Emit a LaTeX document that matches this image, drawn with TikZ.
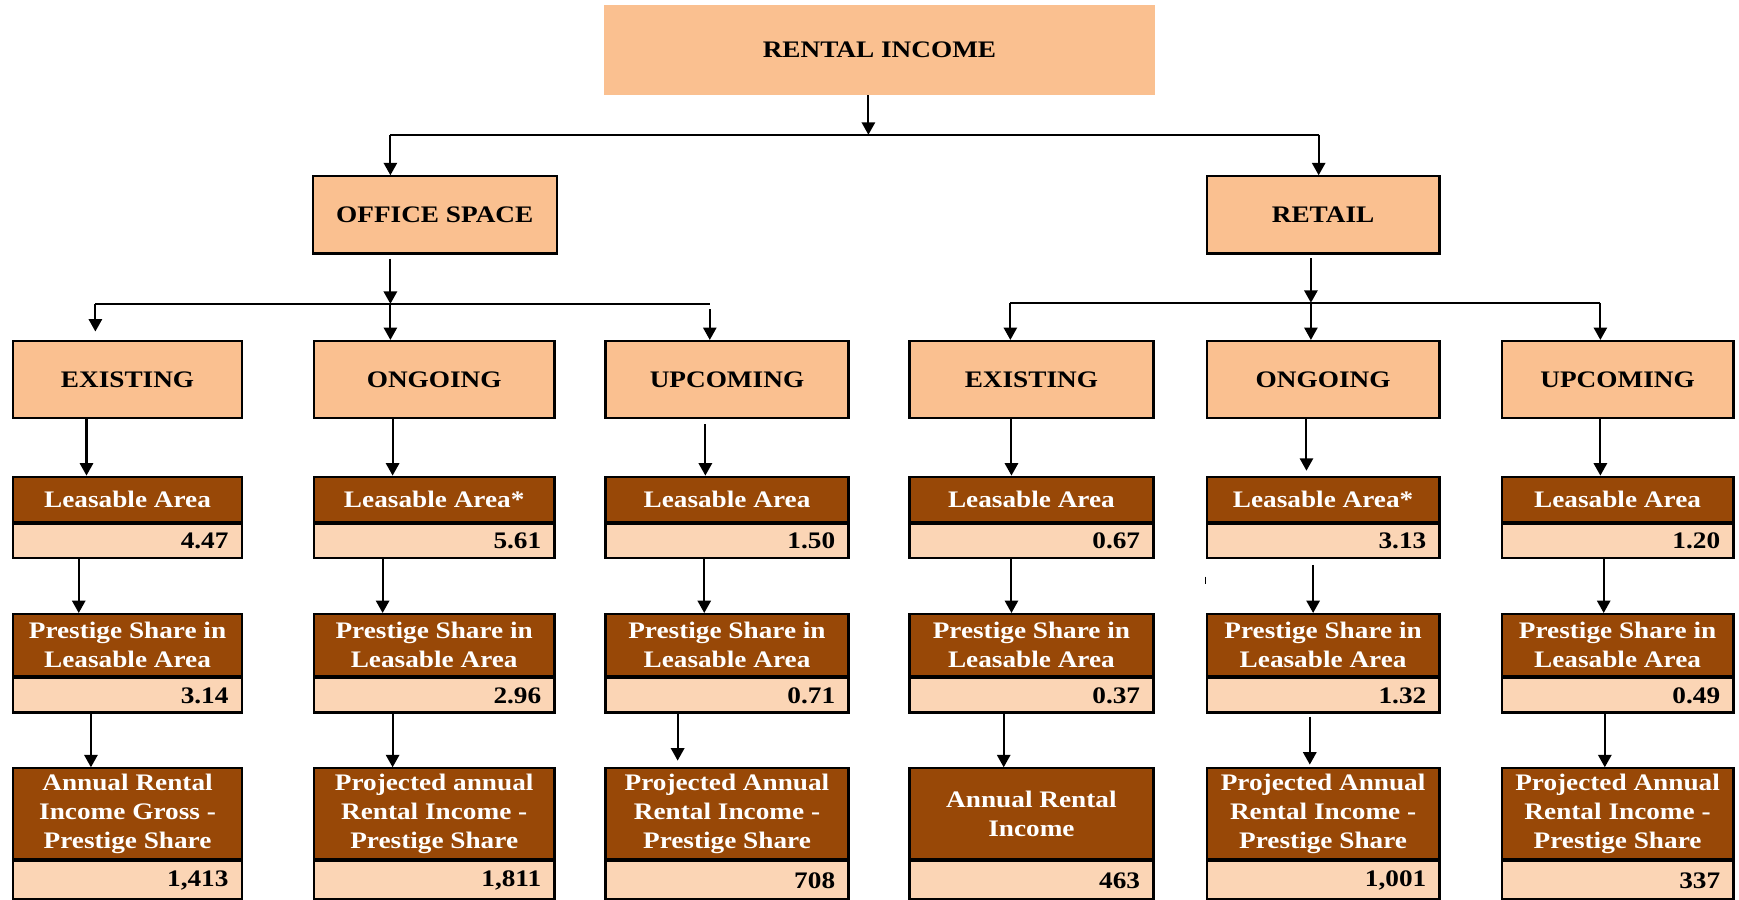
\documentclass[tikz,border=0pt]{standalone}
\usepackage{fontspec}
\setmainfont{Liberation Serif}[FakeStretch=1.15]
\usetikzlibrary{arrows.meta,positioning}
\definecolor{peach}{HTML}{FAC090}
\definecolor{rust}{HTML}{984807}
\definecolor{cream}{HTML}{FBD5B5}

\begin{document}
\begin{tikzpicture}
\tikzstyle{topbox}=[fill=peach,minimum height=1.7375cm,font=\fontsize{15.2}{18.5}\selectfont\bfseries]
\tikzstyle{headbox}=[topbox,draw,line width=1.4pt]
\tikzstyle{darkbox}=[draw,line width=1.4pt,fill=rust,text=white,align=center,inner ysep=0pt,font=\fontsize{15.2}{18.5}\selectfont\bfseries]
\tikzstyle{areabox}=[darkbox,minimum height=1.015cm]
\tikzstyle{sharebox}=[darkbox,minimum height=1.3975cm]
\tikzstyle{incomebox}=[darkbox,minimum height=2.045cm]
\tikzstyle{valbox}=[draw,line width=1.4pt,fill=cream,align=right,inner xsep=0.3cm,inner ysep=0pt,minimum height=0.77cm,font=\fontsize{15.2}{18.5}\selectfont\bfseries]
\tikzstyle{arr}=[line width=1.3pt,-{Triangle[length=0.28cm,width=0.3cm]}]
\tikzstyle{bus}=[line width=1.3pt]
\tikzstyle{w1}=[minimum width=5.15cm]
\tikzstyle{w2}=[minimum width=5.425cm]
\tikzstyle{w3}=[minimum width=5.475cm]
\tikzstyle{w4}=[minimum width=5.5cm]
\tikzstyle{w5}=[minimum width=5.25cm]
\tikzstyle{w6}=[minimum width=5.225cm]
\useasboundingbox (0,0) rectangle (39.2,-20.275);

% top levels
\node[topbox,minimum width=12.4cm,minimum height=2.03cm] (rent) at (19.825,-1.1275) {RENTAL INCOME};
\node[headbox,minimum width=5.5cm] (office) at (9.8,-4.84375) {OFFICE SPACE};
\node[headbox,minimum width=5.25cm] (retail) at (29.825,-4.84375) {RETAIL};

% office columns
\node[headbox,w1] (oex) at (2.875,-8.55625) {EXISTING};
\node[areabox,w1] (oexA) at (2.875,-11.2525) {Leasable Area};
\node[valbox,text width=4.55cm,below=0pt of oexA] (oexAv) {4.47};
\node[sharebox,w1] (oexB) at (2.875,-14.54125) {Prestige Share in\\Leasable Area};
\node[valbox,text width=4.55cm,below=0pt of oexB] (oexBv) {3.14};
\node[incomebox,w1] (oexC) at (2.875,-18.3425) {Annual Rental\\Income Gross -\\Prestige Share};
\node[valbox,text width=4.55cm,minimum height=0.86cm,below=0pt of oexC] (oexCv) {1,413};

\node[headbox,w2] (oon) at (9.7875,-8.55625) {ONGOING};
\node[areabox,w2] (oonA) at (9.7875,-11.2525) {Leasable Area*};
\node[valbox,text width=4.825cm,below=0pt of oonA] (oonAv) {5.61};
\node[sharebox,w2] (oonB) at (9.7875,-14.54125) {Prestige Share in\\Leasable Area};
\node[valbox,text width=4.825cm,below=0pt of oonB] (oonBv) {2.96};
\node[incomebox,w2] (oonC) at (9.7875,-18.3425) {Projected annual\\Rental Income -\\Prestige Share};
\node[valbox,text width=4.825cm,minimum height=0.86cm,below=0pt of oonC] (oonCv) {1,811};

\node[headbox,w3] (oup) at (16.3875,-8.55625) {UPCOMING};
\node[areabox,w3] (oupA) at (16.3875,-11.2525) {Leasable Area};
\node[valbox,text width=4.875cm,below=0pt of oupA] (oupAv) {1.50};
\node[sharebox,w3] (oupB) at (16.3875,-14.54125) {Prestige Share in\\Leasable Area};
\node[valbox,text width=4.875cm,below=0pt of oupB] (oupBv) {0.71};
\node[incomebox,w3] (oupC) at (16.3875,-18.3425) {Projected Annual\\Rental Income -\\Prestige Share};
\node[valbox,text width=4.875cm,minimum height=0.86cm,below=0pt of oupC] (oupCv) {708};

% retail columns
\node[headbox,w4] (rex) at (23.25,-8.55625) {EXISTING};
\node[areabox,w4] (rexA) at (23.25,-11.2525) {Leasable Area};
\node[valbox,text width=4.9cm,below=0pt of rexA] (rexAv) {0.67};
\node[sharebox,w4] (rexB) at (23.25,-14.54125) {Prestige Share in\\Leasable Area};
\node[valbox,text width=4.9cm,below=0pt of rexB] (rexBv) {0.37};
\node[incomebox,w4] (rexC) at (23.25,-18.3425) {Annual Rental\\Income};
\node[valbox,text width=4.9cm,minimum height=0.86cm,below=0pt of rexC] (rexCv) {463};

\node[headbox,w5] (ron) at (29.825,-8.55625) {ONGOING};
\node[areabox,w5] (ronA) at (29.825,-11.2525) {Leasable Area*};
\node[valbox,text width=4.65cm,below=0pt of ronA] (ronAv) {3.13};
\node[sharebox,w5] (ronB) at (29.825,-14.54125) {Prestige Share in\\Leasable Area};
\node[valbox,text width=4.65cm,below=0pt of ronB] (ronBv) {1.32};
\node[incomebox,w5] (ronC) at (29.825,-18.3425) {Projected Annual\\Rental Income -\\Prestige Share};
\node[valbox,text width=4.65cm,minimum height=0.86cm,below=0pt of ronC] (ronCv) {1,001};

\node[headbox,w6] (rup) at (36.4625,-8.55625) {UPCOMING};
\node[areabox,w6] (rupA) at (36.4625,-11.2525) {Leasable Area};
\node[valbox,text width=4.625cm,below=0pt of rupA] (rupAv) {1.20};
\node[sharebox,w6] (rupB) at (36.4625,-14.54125) {Prestige Share in\\Leasable Area};
\node[valbox,text width=4.625cm,below=0pt of rupB] (rupBv) {0.49};
\node[incomebox,w6] (rupC) at (36.4625,-18.3425) {Projected Annual\\Rental Income -\\Prestige Share};
\node[valbox,text width=4.625cm,minimum height=0.86cm,below=0pt of rupC] (rupCv) {337};

% buses
\coordinate (b1l) at (8.8,-3.0375);
\coordinate (b1m) at (19.575,-3.0375);
\coordinate (b1r) at (29.725,-3.0375);
\coordinate (b2l) at (2.15,-6.85);
\coordinate (b2m) at (8.8,-6.85);
\coordinate (b2r) at (16.0,-6.85);
\coordinate (b3l) at (22.775,-6.825);
\coordinate (b3m) at (29.55,-6.825);
\coordinate (b3r) at (36.075,-6.825);

\draw[arr] (rent.south -| b1m) -- (b1m);
\draw[bus] (b1l) -- (b1r);
\draw[arr] (b1l) -- (b1l |- office.north);
\draw[arr] (b1r) -- (b1r |- retail.north);

\draw[arr,shorten <=0.09cm] (office.south -| b2m) -- (b2m);
\draw[bus] (b2l) -- (b2r);
\draw[arr,shorten >=0.19cm] (b2l) -- (b2l |- oex.north);
\draw[arr] (b2m) -- (b2m |- oon.north);
\draw[arr,shorten <=0.125cm] (b2r) -- (b2r |- oup.north);

\draw[arr,shorten <=0.08cm] (retail.south -| b3m) -- (b3m);
\draw[bus] (b3l) -- (b3r);
\draw[arr] (b3l) -- (b3l |- rex.north);
\draw[arr] (b3m) -- (b3m |- ron.north);
\draw[arr] (b3r) -- (b3r |- rup.north);

% column arrows
\draw[arr] ([xshift=-0.925cm]oex.south) -- ([xshift=-0.925cm]oexA.north);
\draw[arr] ([xshift=-1.1cm]oexAv.south) -- ([xshift=-1.1cm]oexB.north);
\draw[arr] ([xshift=-0.825cm]oexBv.south) -- ([xshift=-0.825cm]oexC.north);

\draw[arr] ([xshift=-0.9375cm]oon.south) -- ([xshift=-0.9375cm]oonA.north);
\draw[arr] ([xshift=-1.1625cm]oonAv.south) -- ([xshift=-1.1625cm]oonB.north);
\draw[arr] ([xshift=-0.9375cm]oonBv.south) -- ([xshift=-0.9375cm]oonC.north);

\draw[arr,shorten <=0.11cm] ([xshift=-0.4875cm]oup.south) -- ([xshift=-0.4875cm]oupA.north);
\draw[arr] ([xshift=-0.5125cm]oupAv.south) -- ([xshift=-0.5125cm]oupB.north);
\draw[arr,shorten >=0.15cm] ([xshift=-1.1125cm]oupBv.south) -- ([xshift=-1.1125cm]oupC.north);

\draw[arr] ([xshift=-0.45cm]rex.south) -- ([xshift=-0.45cm]rexA.north);
\draw[arr] ([xshift=-0.45cm]rexAv.south) -- ([xshift=-0.45cm]rexB.north);
\draw[arr] ([xshift=-0.625cm]rexBv.south) -- ([xshift=-0.625cm]rexC.north);

\draw[arr,shorten >=0.11cm] ([xshift=-0.375cm]ron.south) -- ([xshift=-0.375cm]ronA.north);
\draw[arr,shorten <=0.13cm] ([xshift=-0.225cm]ronAv.south) -- ([xshift=-0.225cm]ronB.north);
\draw[arr,shorten <=0.07cm,shorten >=0.06cm] ([xshift=-0.3cm]ronBv.south) -- ([xshift=-0.3cm]ronC.north);

\draw[arr] ([xshift=-0.3875cm]rup.south) -- ([xshift=-0.3875cm]rupA.north);
\draw[arr] ([xshift=-0.3125cm]rupAv.south) -- ([xshift=-0.3125cm]rupB.north);
\draw[arr] ([xshift=-0.2875cm]rupBv.south) -- ([xshift=-0.2875cm]rupC.north);

\draw[line width=1pt] (27.175,-13.0) -- (27.175,-13.175);
\end{tikzpicture}
\end{document}
